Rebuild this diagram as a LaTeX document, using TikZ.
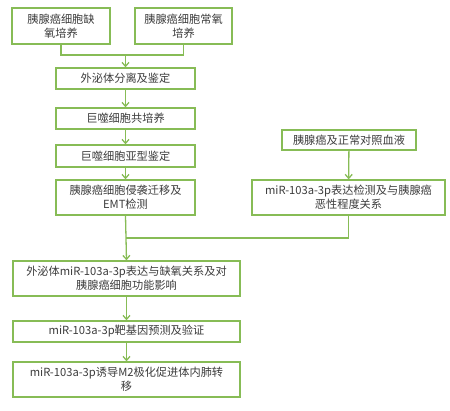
\documentclass[tikz,border=0pt]{standalone}
\usepackage{fontspec}
\setmainfont{Noto Sans CJK SC}
\usetikzlibrary{arrows.meta}
\definecolor{boxgreen}{RGB}{135,188,86}
\definecolor{txtgray}{RGB}{60,60,60}

\begin{document}
\begin{tikzpicture}[x=1pt,y=-1pt,
  box/.style={draw=boxgreen,line width=1.3pt,fill=white,inner sep=0pt,align=center,
    text=txtgray,font=\fontsize{11.2}{14}\selectfont},
  link/.style={draw=boxgreen,line width=1.3pt},
  arr/.style={link,-{Straight Barb[length=4pt,width=7pt]}}]
\useasboundingbox (0,0) rectangle (450,410);
\node[box,minimum width=98pt,minimum height=36pt] (hyp) at (61,26) {胰腺癌细胞缺\\氧培养};
\node[box,minimum width=97pt,minimum height=36pt] (norm) at (183.5,26) {胰腺癌细胞常氧\\培养};
\node[box,minimum width=139pt,minimum height=21pt] (exo) at (125.5,78.5) {外泌体分离及鉴定};
\node[box,minimum width=139pt,minimum height=21pt] (cocul) at (125.5,118.5) {巨噬细胞共培养};
\node[box,minimum width=139pt,minimum height=22pt] (subtype) at (125.5,156) {巨噬细胞亚型鉴定};
\node[box,minimum width=139pt,minimum height=35pt] (emt) at (125.5,197.5) {胰腺癌细胞侵袭迁移及\\EMT检测};
\node[box,minimum width=134pt,minimum height=20pt] (blood) at (349,140) {胰腺癌及正常对照血液};
\node[box,minimum width=193pt,minimum height=35pt] (detect) at (348.5,197.5) {miR-103a-3p表达检测及与胰腺癌\\恶性程度关系};
\node[box,minimum width=227pt,minimum height=35pt] (func) at (126.5,278.5) {外泌体miR-103a-3p表达与缺氧关系及对\\胰腺癌细胞功能影响};
\node[box,minimum width=227pt,minimum height=21pt] (target) at (126.5,331.5) {miR-103a-3p靶基因预测及验证};
\node[box,minimum width=227pt,minimum height=35pt] (meta) at (126.5,379.5) {miR-103a-3p诱导M2极化促进体内肺转\\移};

% joins
\coordinate (top) at (125.5,55);
\coordinate (mid) at (125.5,238);
\draw[link] (hyp.south) |- (top) -| (norm.south);
\draw[arr] (top) -- (exo.north);
\draw[arr] (exo) -- (cocul);
\draw[arr] (cocul) -- (subtype);
\draw[arr] (subtype) -- (emt);
\draw[arr] (blood) -- (detect);
\draw[link] (detect.south) |- (mid);
\draw[arr] (emt.south) -- (func.north);
\draw[arr] (func) -- (target);
\draw[arr] (target) -- (meta);
\end{tikzpicture}
\end{document}
